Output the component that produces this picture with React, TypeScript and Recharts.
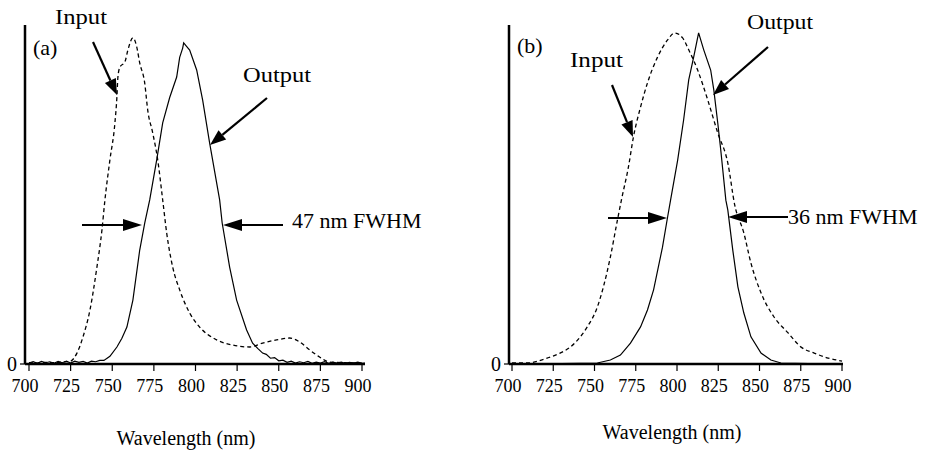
import { LineChart, Line, XAxis, YAxis } from 'recharts'

const FONT = '"Liberation Serif", "Times New Roman", serif'

const xTicks = [700, 725, 750, 775, 800, 825, 850, 875, 900]

// (a) measured spectra, normalised so the output peak is 1
const inputAWl = [700, 705, 710, 715, 720, 724.6, 728.8, 732.4, 736.6, 740.8, 743.8, 745.6, 748.6, 751.6, 752.8, 753.4, 754.6, 757.6, 759.4, 762.4, 764.7, 766.5, 769.5, 771.3, 774.3, 777.3, 780.3, 782.7, 786.3, 790.5, 796.5, 802.5, 812.7, 822.3, 832.5, 840.3, 848.7, 856.5, 862.5, 868.5, 874.5, 880.5, 890, 900]
const inputAVal = [0.004, 0.003, 0.005, 0.004, 0.006, 0.008, 0.034, 0.084, 0.168, 0.302, 0.417, 0.511, 0.636, 0.751, 0.832, 0.894, 0.925, 0.941, 0.978, 1.016, 0.988, 0.938, 0.875, 0.791, 0.72, 0.636, 0.511, 0.408, 0.302, 0.231, 0.159, 0.115, 0.075, 0.059, 0.053, 0.065, 0.075, 0.081, 0.069, 0.044, 0.022, 0.006, 0.004, 0.003]

const outputAWl = [700, 702.5, 705, 707.5, 710, 712.5, 715, 717.5, 720, 722.5, 725, 727.5, 730, 732.5, 735, 737.5, 740, 742.5, 745, 748.6, 752.8, 755.8, 758.8, 762.4, 766.5, 769.5, 772.5, 776.7, 780.3, 784.5, 788.7, 790.5, 792.3, 792.9, 794.5, 796.5, 800.7, 804.3, 808.5, 814.5, 816, 820.5, 824.7, 830.7, 834.3, 837.5, 840.3, 842.5, 845, 847.5, 850, 852.5, 855, 857.5, 860, 862.5, 865, 867.5, 870, 872.5, 875, 877.5, 880, 882.5, 885, 887.5, 890, 892.5, 895, 897.5, 900, 901.8]
const outputAVal = [0.003, 0.007, 0.002, 0.008, 0.004, 0.007, 0.002, 0.008, 0.004, 0.009, 0.003, 0.009, 0.005, 0.008, 0.003, 0.009, 0.007, 0.011, 0.011, 0.024, 0.053, 0.08, 0.115, 0.199, 0.355, 0.439, 0.511, 0.636, 0.751, 0.83, 0.894, 0.955, 0.984, 1.0, 0.99, 0.978, 0.916, 0.822, 0.688, 0.511, 0.44, 0.302, 0.199, 0.106, 0.065, 0.048, 0.034, 0.03, 0.018, 0.02, 0.01, 0.012, 0.005, 0.009, 0.003, 0.007, 0.004, 0.008, 0.002, 0.006, 0.003, 0.007, 0.002, 0.006, 0.003, 0.006, 0.002, 0.005, 0.003, 0.006, 0.002, 0.003]

// (b)
const inputBWl = [700, 709.1, 721.3, 729.2, 735.3, 741.4, 745.6, 751.7, 755.4, 759.6, 763.9, 766.5, 770.6, 773.6, 777.9, 782.1, 788.2, 794.3, 798.5, 803.4, 807.1, 812.5, 818.6, 824.7, 830.8, 835, 840.5, 844.8, 850.9, 858.8, 867.3, 875.2, 883.1, 891.6, 900]
const inputBVal = [0.003, 0.003, 0.018, 0.033, 0.051, 0.082, 0.112, 0.172, 0.233, 0.323, 0.435, 0.5, 0.596, 0.686, 0.776, 0.849, 0.927, 0.979, 1.0, 0.985, 0.949, 0.888, 0.798, 0.698, 0.607, 0.48, 0.396, 0.305, 0.215, 0.142, 0.094, 0.051, 0.033, 0.018, 0.009]

const outputBWl = [700, 730, 751.7, 759.6, 765.7, 771.8, 777.9, 782.1, 785.8, 791.2, 794.3, 796.1, 800.4, 804, 807.1, 810.1, 813.1, 816.2, 820.4, 822.3, 824.7, 826.5, 829.6, 830.8, 833.8, 836.9, 840.5, 844.8, 850.9, 856.9, 863, 880, 900]
const outputBVal = [0, 0.001, 0.003, 0.012, 0.027, 0.063, 0.112, 0.163, 0.224, 0.353, 0.444, 0.495, 0.616, 0.737, 0.858, 0.927, 1.0, 0.949, 0.888, 0.828, 0.728, 0.647, 0.495, 0.465, 0.344, 0.233, 0.154, 0.082, 0.033, 0.012, 0.003, 0.001, 0]

const toRows = (wl: number[], val: number[]) => wl.map((w, i) => ({ w, v: val[i] }))

function Panel({ left, width, marginLeft, marginRight, xDomain, yMax, input, output }: {
  left: number
  width: number
  marginLeft: number
  marginRight: number
  xDomain: [number, number]
  yMax: number
  input: { w: number; v: number }[]
  output: { w: number; v: number }[]
}) {
  return (
    <div style={{ position: 'absolute', left, top: 0 }}>
      <LineChart width={width} height={455} margin={{ top: 25, right: marginRight, bottom: 51, left: marginLeft }}>
        <XAxis
          dataKey="w"
          type="number"
          domain={xDomain}
          ticks={xTicks}
          allowDataOverflow
          height={40}
          tickSize={7}
          tickMargin={8}
          axisLine={{ stroke: '#000', strokeWidth: 2.5 }}
          tickLine={{ stroke: '#000', strokeWidth: 1.2 }}
          tick={{ fill: '#000', fontSize: 18, fontFamily: FONT, dx: -4 }}
        />
        <YAxis
          type="number"
          domain={[0, yMax]}
          ticks={[0]}
          allowDataOverflow
          width={20}
          tickSize={5}
          tickMargin={3}
          axisLine={{ stroke: '#000', strokeWidth: 2.5 }}
          tickLine={{ stroke: '#000', strokeWidth: 1.2 }}
          tick={{ fill: '#000', fontSize: 20, fontFamily: FONT }}
        />
        <Line data={input} dataKey="v" type="monotone" stroke="#000" strokeWidth={1.3} strokeDasharray="4 3" dot={false} isAnimationActive={false} />
        <Line data={output} dataKey="v" type="linear" stroke="#000" strokeWidth={1.2} dot={false} isAnimationActive={false} />
      </LineChart>
    </div>
  )
}

function Arrow({ x1, y1, x2, y2, len = 16, half = 6 }: { x1: number; y1: number; x2: number; y2: number; len?: number; half?: number }) {
  const dx = x2 - x1
  const dy = y2 - y1
  const d = Math.hypot(dx, dy)
  const ux = dx / d
  const uy = dy / d
  const bx = x2 - ux * len
  const by = y2 - uy * len
  const pts = `${x2},${y2} ${bx - uy * half},${by + ux * half} ${bx + uy * half},${by - ux * half}`
  return (
    <g>
      <line x1={x1} y1={y1} x2={bx} y2={by} stroke="#000" strokeWidth={2.2} />
      <polygon points={pts} fill="#000" />
    </g>
  )
}

export default function App() {
  const txt = { fontFamily: FONT, fontSize: 22, fill: '#000' }
  return (
    <div style={{ position: 'absolute', left: 0, top: 0, width: 934, height: 455, background: '#fff' }}>
      <Panel left={0} width={380} marginLeft={5} marginRight={15} xDomain={[697.6, 901.8]} yMax={1.056} input={toRows(inputAWl, inputAVal)} output={toRows(outputAWl, outputAVal)} />
      <Panel left={480} width={454} marginLeft={9} marginRight={91} xDomain={[698.18, 900.6]} yMax={1.024} input={toRows(inputBWl, inputBVal)} output={toRows(outputBWl, outputBVal)} />
      <svg width={934} height={455} style={{ position: 'absolute', left: 0, top: 0, pointerEvents: 'none' }}>
        {/* panel (a) */}
        <text x={33} y={55} {...txt}>(a)</text>
        <text x={55} y={24} {...txt} textLength={52} lengthAdjust="spacingAndGlyphs">Input</text>
        <Arrow x1={93} y1={42} x2={117} y2={95} />
        <text x={243} y={82} {...txt} textLength={68} lengthAdjust="spacingAndGlyphs">Output</text>
        <Arrow x1={267} y1={98} x2={210} y2={145} />
        <Arrow x1={82} y1={225} x2={142} y2={225} len={19} />
        <Arrow x1={283} y1={225} x2={223} y2={225} len={19} />
        <text x={292} y={228} {...txt}>47 nm FWHM</text>
        <text x={186} y={445} {...txt} fontSize={20} textAnchor="middle">Wavelength (nm)</text>
        {/* panel (b) */}
        <text x={517} y={53} {...txt}>(b)</text>
        <text x={570} y={67} {...txt} textLength={53} lengthAdjust="spacingAndGlyphs">Input</text>
        <Arrow x1={612} y1={85} x2={633} y2={137} />
        <text x={747} y={29} {...txt} textLength={66} lengthAdjust="spacingAndGlyphs">Output</text>
        <Arrow x1={768} y1={47} x2={713} y2={95} />
        <Arrow x1={608} y1={218} x2={667} y2={218} len={19} />
        <Arrow x1={788} y1={217} x2={728} y2={217} len={19} />
        <text x={788} y={224} {...txt}>36 nm FWHM</text>
        <text x={672} y={439} {...txt} fontSize={20} textAnchor="middle">Wavelength (nm)</text>
      </svg>
    </div>
  )
}
